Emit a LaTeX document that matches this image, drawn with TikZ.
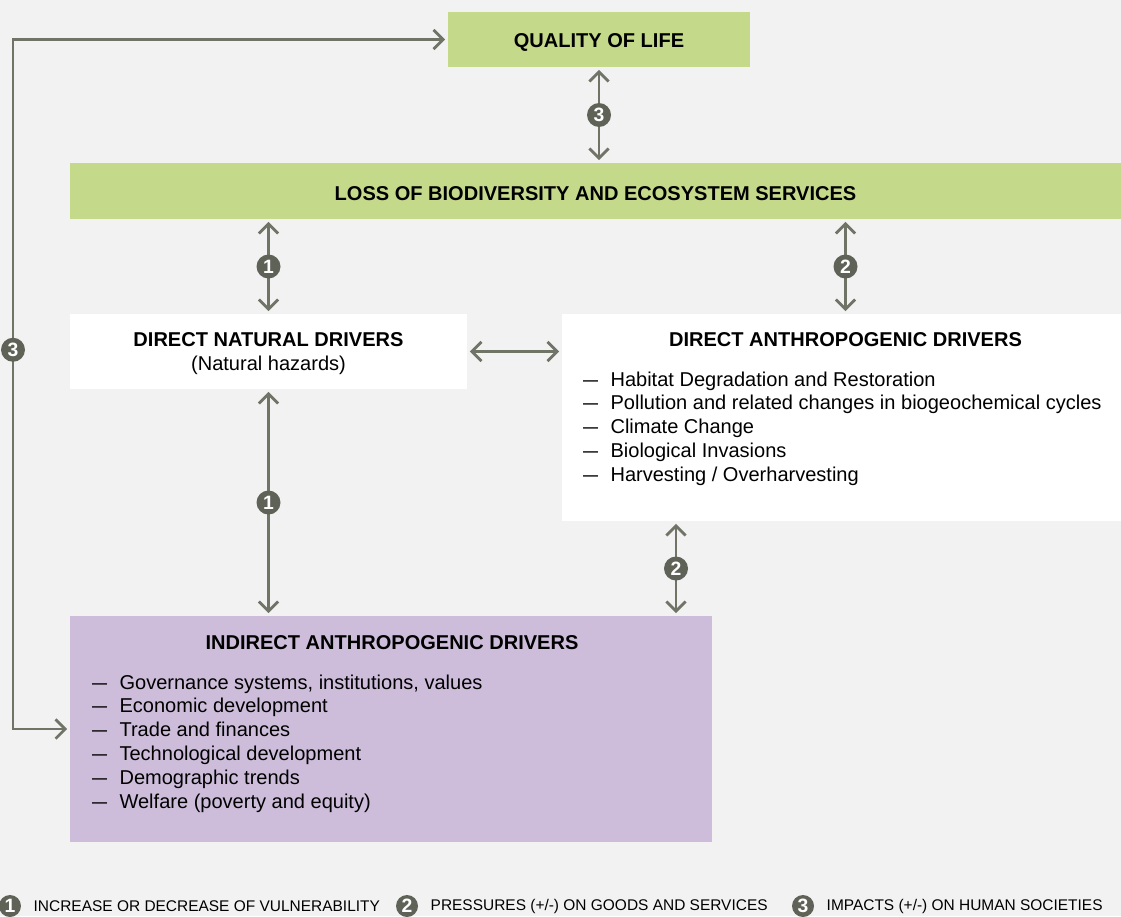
\documentclass[tikz,border=0pt]{standalone}
\usepackage{fontspec}
\setmainfont{Liberation Sans}
\usepackage{tikz}
\usetikzlibrary{positioning,arrows.meta,calc}
\definecolor{bgcolor}{RGB}{242,242,242}
\definecolor{qolgreen}{RGB}{197,217,139}
\definecolor{indpurple}{RGB}{205,189,219}
\definecolor{linkcolor}{RGB}{112,116,102}
\definecolor{numcolor}{RGB}{95,99,87}
\newcommand{\itemdash}{\makebox[0.55cm][l]{\scalebox{0.75}[1]{—}}}

\begin{document}
\begin{tikzpicture}[
  x=0.02cm, y=-0.02cm,
  greenbox/.style  = {rectangle, fill=qolgreen, inner sep=0pt, text height=0.38cm,
                      font=\bfseries\fontsize{11.4}{13.6}\selectfont},
  whitebox/.style  = {rectangle, fill=white, inner sep=0pt},
  purplebox/.style = {rectangle, fill=indpurple, inner sep=0pt},
  boxtitle/.style  = {font=\bfseries\fontsize{11.4}{13.6}\selectfont, inner sep=0pt},
  boxtext/.style   = {font=\fontsize{11.4}{13.6}\selectfont, inner sep=0pt},
  boxlist/.style   = {font=\fontsize{11.4}{13.6}\selectfont, align=left,
                      inner sep=0pt, anchor=north west},
  link/.style      = {draw=linkcolor, line width=1.6pt,
                      {Straight Barb[length=5.5pt,width=11pt]}-{Straight Barb[length=5.5pt,width=11pt]},
                      shorten <=0.05cm, shorten >=0.05cm},
  num/.style       = {circle, fill=numcolor, text=white, minimum size=0.48cm,
                      inner sep=0pt, font=\bfseries\fontsize{11}{11}\selectfont},
  legtext/.style   = {font=\fontsize{8.8}{10}\selectfont, inner sep=0pt}
]
\useasboundingbox (0,0) rectangle (1121,916);
\fill[bgcolor] (0,0) rectangle (1121,916);

% boxes
\node[greenbox, minimum width=6.04cm, minimum height=1.1cm] (qol) at (599,39.5)
      {QUALITY OF LIFE};
\node[greenbox, minimum width=21.02cm, minimum height=1.12cm] (loss) at (595.5,191)
      {LOSS OF BIODIVERSITY AND ECOSYSTEM SERVICES};

\node[whitebox, minimum width=7.94cm, minimum height=1.5cm] (natural) at (268.5,351.5) {};
\node[boxtitle] (naturaltitle) at ($(natural.north)+(0,26)$) {DIRECT NATURAL DRIVERS};
\node[boxtext, anchor=base] (naturalsub) at ($(naturaltitle.base)+(0,24)$) {(Natural hazards)};

\node[whitebox, minimum width=11.18cm, minimum height=4.14cm] (anthro) at (841.5,417.5) {};
\node[boxtitle] (anthrotitle) at ($(anthro.north)+(4,26)$) {DIRECT ANTHROPOGENIC DRIVERS};
\node[boxlist] (anthrolist) at ($(anthro.north west)+(21,57.5)$)
      {\itemdash Habitat Degradation and Restoration\\
       \itemdash Pollution and related changes in biogeochemical cycles\\
       \itemdash Climate Change\\
       \itemdash Biological Invasions\\
       \itemdash Harvesting / Overharvesting};

\node[purplebox, minimum width=12.84cm, minimum height=4.52cm] (indirect) at (391,729) {};
\node[boxtitle] (indirecttitle) at ($(indirect.north)+(1,27)$) {INDIRECT ANTHROPOGENIC DRIVERS};
\node[boxlist] (indirectlist) at ($(indirect.north west)+(22,58.5)$)
      {\itemdash Governance systems, institutions, values\\
       \itemdash Economic development\\
       \itemdash Trade and finances\\
       \itemdash Technological development\\
       \itemdash Demographic trends\\
       \itemdash Welfare (poverty and equity)};

% links
\coordinate (linkx) at (676,0);
\coordinate (loopx) at (13,0);

\draw[link] (qol.south) -- (qol.south |- loss.north) node[num, midway] (n3a) {3};
\draw[link] (loss.south -| natural.north) -- (natural.north) node[num, midway] (n1a) {1};
\draw[link] (loss.south -| anthrotitle) -- (anthro.north -| anthrotitle) node[num, midway] (n2a) {2};
\draw[link] (natural.east) -- (natural.east -| anthro.west);
\draw[link] (natural.south) -- (natural.south |- indirect.north) node[num, midway] (n1b) {1};
\draw[link] (anthro.south -| linkx) -- (indirect.north -| linkx) node[num, midway] (n2b) {2};
\draw[link] (qol.west) -- (qol.west -| loopx) -- (loopx |- indirect.west)
      node[num, pos=0.45] (n3b) {3} -- (indirect.west);

% legend
\node[num, minimum size=0.44cm] (leg1) at (10,906) {1};
\node[legtext, right=0.24cm of leg1] (legtext1) {INCREASE OR DECREASE OF VULNERABILITY};
\node[num, minimum size=0.44cm] (leg2) at (407,906) {2};
\node[legtext, right=0.24cm of leg2] (legtext2) {PRESSURES (+/-) ON GOODS AND SERVICES};
\node[num, minimum size=0.44cm] (leg3) at (803,906) {3};
\node[legtext, right=0.24cm of leg3] (legtext3) {IMPACTS (+/-) ON HUMAN SOCIETIES};
\end{tikzpicture}
\end{document}
